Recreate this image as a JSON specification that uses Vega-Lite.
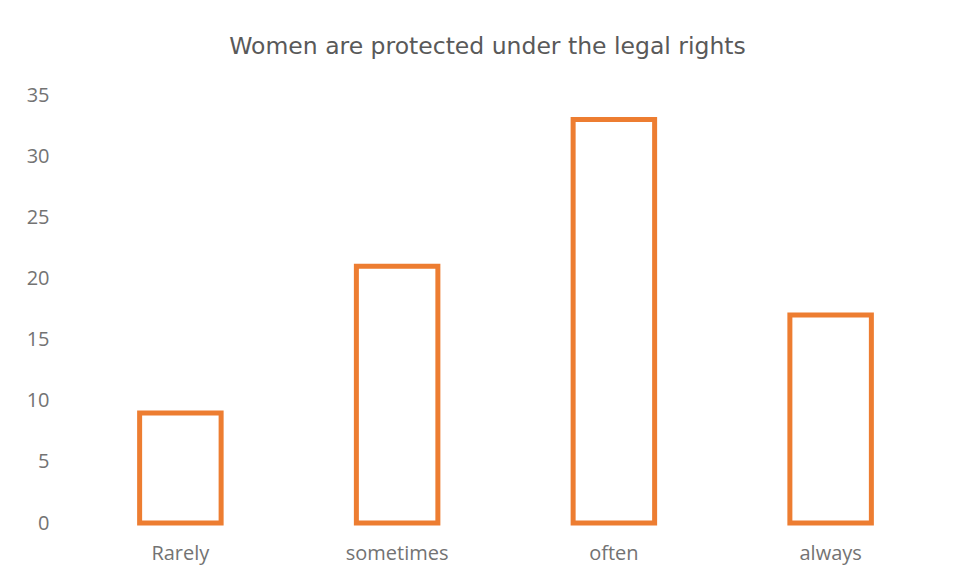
{
  "$schema": "https://vega.github.io/schema/vega-lite/v6.json",
  "width": 867,
  "height": 428,
  "autosize": {"type": "none"},
  "padding": {"left": 72, "top": 95, "right": 15, "bottom": 58},
  "background": "white",
  "title": {
    "text": "Women are protected under the legal rights",
    "font": "DejaVu Sans",
    "fontSize": 23.5,
    "fontWeight": "normal",
    "color": "#595959",
    "anchor": "middle",
    "frame": "group",
    "dx": -18,
    "baseline": "alphabetic",
    "offset": 8
  },
  "data": {
    "values": [
      {"category": "Rarely", "value": 9},
      {"category": "sometimes", "value": 21},
      {"category": "often", "value": 33},
      {"category": "always", "value": 17}
    ]
  },
  "mark": {"type": "bar", "fill": "white", "stroke": "#ED7D31", "strokeWidth": 5, "cornerRadius": 0},
  "encoding": {
    "x": {
      "field": "category",
      "type": "nominal",
      "sort": null,
      "scale": {"paddingInner": 0.624, "paddingOuter": 0.312},
      "axis": {
        "title": null,
        "labelAngle": 0,
        "domain": false,
        "ticks": false,
        "grid": false,
        "labelFont": "Open Sans",
        "labelFontSize": 20,
        "labelColor": "#737373",
        "labelPadding": 20
      }
    },
    "y": {
      "field": "value",
      "type": "quantitative",
      "scale": {"domain": [0, 35], "nice": false},
      "axis": {
        "title": null,
        "values": [0, 5, 10, 15, 20, 25, 30, 35],
        "domain": false,
        "ticks": false,
        "grid": false,
        "labelFont": "Open Sans",
        "labelFontSize": 20,
        "labelColor": "#737373",
        "labelPadding": 23
      }
    }
  },
  "config": {"view": {"stroke": null}}
}
